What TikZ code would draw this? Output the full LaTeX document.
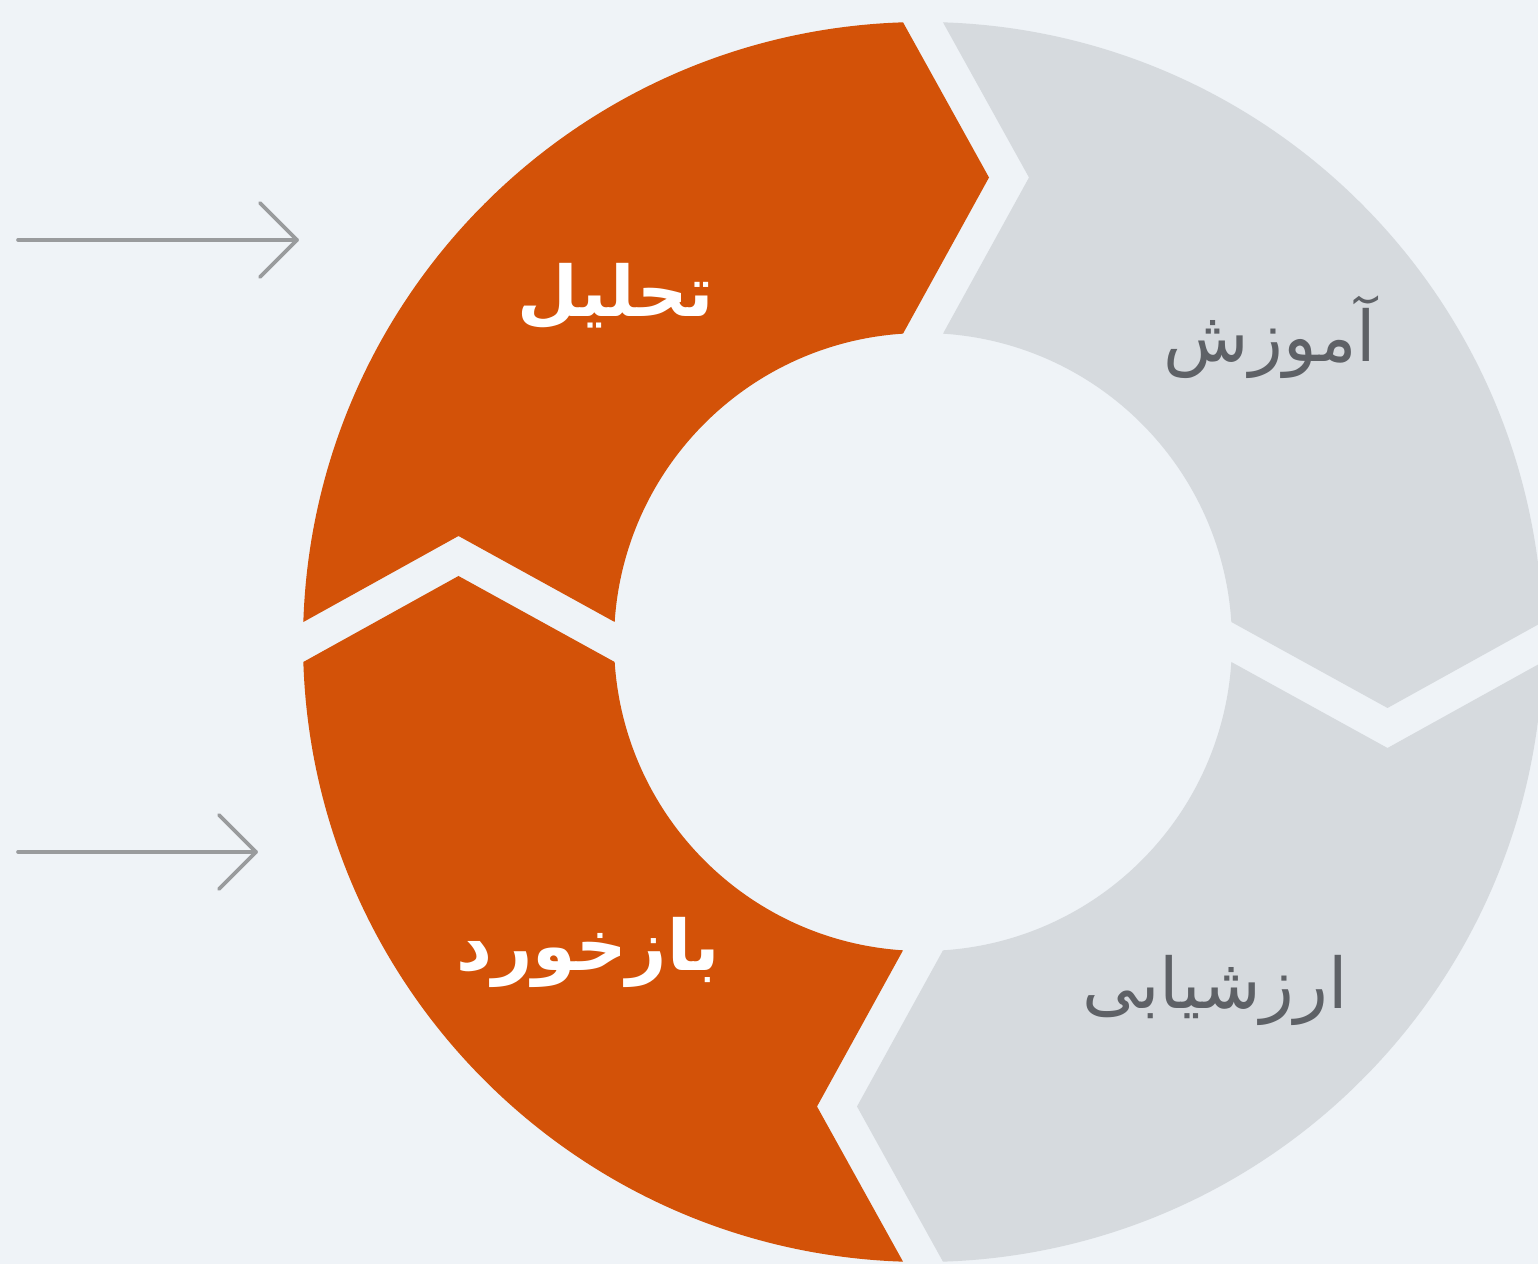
\documentclass[tikz,border=0pt]{standalone}
\usepackage{fontspec}
\usetikzlibrary{calc}
\newfontfamily\arabicfont[Script=Arabic]{DejaVu Sans}
\TeXXeTstate=1
\definecolor{bgc}{HTML}{EFF3F7}
\definecolor{orng}{HTML}{D35208}
\definecolor{segg}{HTML}{D6DADE}
\definecolor{txtg}{HTML}{5E6166}
\definecolor{arrg}{HTML}{999B9D}
\def\rout{620}
\def\rin{309}
\def\rmid{464.5}
\def\gapw{20}
\def\chevd{86}
\def\dout{1.848}
\def\din{3.711}
\newcommand\ringseg[2]{%
  \pgfmathsetmacro\thA{#1}%
  \pgfmathsetmacro\thB{#1-90}%
  \pgfmathsetmacro\oA{\thA-\dout}%
  \pgfmathsetmacro\oB{\thB+\dout}%
  \pgfmathsetmacro\iA{\thA-\din}%
  \pgfmathsetmacro\iB{\thB+\din}%
  \pgfmathsetmacro\tB{\thB-90}%
  \pgfmathsetmacro\tA{\thA-90}%
  \pgfmathsetmacro\tipd{\chevd-\gapw}%
  \pgfmathsetmacro\notd{\chevd+\gapw}%
  \fill[#2] ($(C)+(\oA:\rout)$) arc[start angle=\oA, end angle=\oB, radius=\rout]
    -- ($(C)+(\thB:\rmid)+(\tB:\tipd)$)
    -- ($(C)+(\iB:\rin)$) arc[start angle=\iB, end angle=\iA, radius=\rin]
    -- ($(C)+(\thA:\rmid)+(\tA:\notd)$) -- cycle;}
\begin{document}
\begin{tikzpicture}[x=0.5pt,y=0.5pt,
  lightlbl/.style={font=\arabicfont\bfseries\fontsize{35}{40}\selectfont, text=white, inner sep=0pt},
  darklbl/.style={font=\arabicfont\fontsize{35}{40}\selectfont, text=txtg, inner sep=0pt},
  pointer/.style={draw=arrg, line width=1.8pt, line cap=round, line join=round}]
\path[fill=bgc] (0,0) rectangle (1538,1264);
\clip (0,0) rectangle (1538,1264);
\coordinate (C) at (923,622);
\ringseg{180}{orng}
\ringseg{90}{segg}
\ringseg{0}{segg}
\ringseg{-90}{orng}
\node[lightlbl] (tahlil) at (616,968) {\beginR تحلیل\endR};
\node[darklbl] (amuzesh) at (1270,927) {\beginR آموزش\endR};
\node[darklbl] (arzyabi) at (1215,274) {\beginR ارزشیابی\endR};
\node[lightlbl] (bazkhord) at (588,312) {\beginR بازخورد\endR};
\coordinate (a1s) at (18,1024);
\coordinate (a1e) at (297,1024);
\coordinate (a2s) at (18,412);
\coordinate (a2e) at (256,412);
\draw[pointer] (a1s) -- (a1e);
\draw[pointer] ($(a1e)+(-37,37)$) -- (a1e) -- ($(a1e)+(-37,-37)$);
\draw[pointer] (a2s) -- (a2e);
\draw[pointer] ($(a2e)+(-37,37)$) -- (a2e) -- ($(a2e)+(-37,-37)$);
\end{tikzpicture}
\end{document}
